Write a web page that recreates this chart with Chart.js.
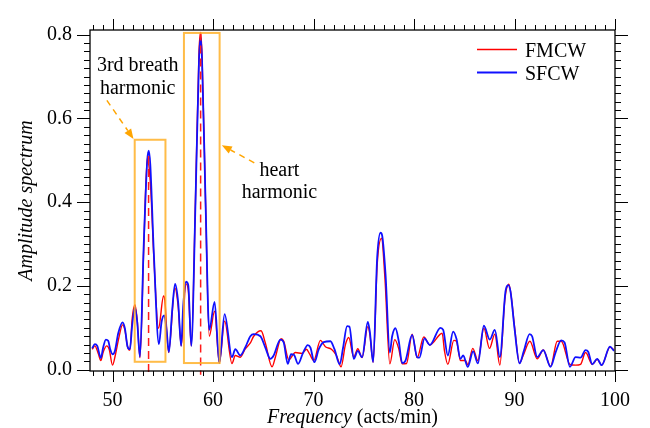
<!DOCTYPE html>
<html>
<head>
<meta charset="utf-8">
<script src="https://cdn.jsdelivr.net/npm/chart.js@4.4.1/dist/chart.umd.min.js"></script>
<style>
    html, body { margin: 0; padding: 0; background: #fff; }
    #wrap { width: 650px; height: 428px; position: relative; }
</style>
</head>
<body>
<div id="wrap"><canvas id="spectrum"></canvas></div>
<script>
// Spectrum data
const fmcwFreq = [47.97, 48.23, 48.57, 48.83, 49.06, 49.4, 49.66, 49.99, 50.29, 50.62, 50.99, 51.22, 51.49, 51.72, 51.95, 52.22, 52.45, 52.72,
    53.1, 53.45, 53.6, 53.8, 54.1, 54.57, 55.07, 55.2, 55.57, 56.2, 56.53, 56.83, 57.3, 57.53, 57.83,
    58.25, 58.6, 58.76, 58.9, 59.25, 59.62, 60.15, 60.62, 61.15, 61.88, 62.21, 62.71, 63.2, 63.71, 64.04, 64.77, 65.2,
    65.87, 66.2, 66.77, 67.03, 67.53, 68.19, 68.86, 69.29, 69.62, 70.02, 70.68, 71.18, 71.78, 72.28, 72.74, 73.17, 73.5,
    74.0, 74.4, 74.83, 75.4, 75.6, 75.93, 76.33, 76.76, 77.1, 77.59, 78.08, 78.48, 78.82, 79.25, 79.81, 80.31, 80.97,
    81.57, 82.8, 83.03, 83.36, 83.96, 84.22, 84.62, 85.12, 85.35, 85.85, 86.35, 86.95, 87.51, 88.04, 88.54, 89.04,
    89.44, 89.7, 90.0, 90.5, 90.86, 91.53, 92.26, 92.86, 93.59, 94.25, 94.65, 95.51, 96.08, 96.57, 97.07, 97.74,
    98.23, 98.67, 99.5, 99.9];
const fmcwAmp = [0.049, 0.057, 0.039, 0.022, 0.042, 0.057, 0.049, 0.011, 0.037, 0.076, 0.107, 0.095, 0.055, 0.047, 0.122, 0.155, 0.118, 0.029,
    0.29, 0.505, 0.49, 0.43, 0.27, 0.099, 0.176, 0.165, 0.041, 0.195, 0.15, 0.057, 0.205, 0.19, 0.057,
    0.41, 0.76, 0.805, 0.75, 0.40, 0.08, 0.14, 0.016, 0.116, 0.015, 0.034, 0.03, 0.05, 0.064, 0.08, 0.093, 0.064,
    0.007, 0.03, 0.074, 0.068, 0.024, 0.041, 0.039, 0.049, 0.037, 0.022, 0.07, 0.055, 0.049, 0.034, 0.007, 0.06, 0.077,
    0.03, 0.05, 0.029, 0.103, 0.085, 0.018, 0.25, 0.314, 0.22, 0.014, 0.072, 0.05, 0.014, 0.015, 0.085, 0.029, 0.078,
    0.059, 0.087, 0.045, 0.013, 0.07, 0.068, 0.022, 0.022, 0.012, 0.051, 0.022, 0.099, 0.051, 0.085, 0.011, 0.168,
    0.204, 0.17, 0.103, 0.016, 0.034, 0.068, 0.026, 0.047, 0.008, 0.068, 0.068, 0.013, 0.011, 0.013, 0.041, 0.013,
    0.025, 0.011, 0.054, 0.047];

const sfcwFreq = [47.97, 48.23, 48.47, 48.83, 49.06, 49.33, 49.56, 49.76, 49.99, 50.23, 50.56, 50.99, 51.22, 51.49, 51.72, 51.95, 52.22, 52.45, 52.72,
    53.1, 53.45, 53.6, 53.75, 54.1, 54.61, 54.87, 55.14, 55.37, 55.6, 55.94, 56.22, 56.53, 56.82, 57.03, 57.3, 57.53, 57.83,
    58.25, 58.6, 58.76, 58.9, 59.25, 59.62, 60.15, 60.62, 61.15, 61.88, 62.21, 62.71, 63.2, 63.71, 64.04, 64.71, 65.2,
    65.7, 66.03, 66.7, 67.03, 67.43, 67.76, 68.03, 68.46, 68.96, 69.42, 69.69, 70.08, 70.52, 71.01, 71.68, 72.08, 72.61,
    72.94, 73.34, 73.57, 74.0, 74.4, 74.83, 75.4, 75.6, 75.93, 76.33, 76.66, 76.82, 77.16, 77.59, 77.82, 78.15, 78.48,
    78.82, 79.15, 79.81, 80.31, 80.54, 81.04, 81.57, 82.63, 82.9, 83.36, 83.89, 84.22, 84.62, 84.89, 85.35, 85.88,
    86.35, 86.95, 87.54, 88.04, 88.54, 89.1, 89.37, 89.6, 90.0, 90.5, 90.93, 91.5, 91.75, 92.26, 92.86, 93.59, 94.08,
    94.65, 94.98, 95.51, 96.08, 96.57, 97.07, 97.33, 97.74, 98.23, 98.67, 99.5, 99.9];
const sfcwAmp = [0.051, 0.061, 0.057, 0.028, 0.053, 0.072, 0.069, 0.049, 0.037, 0.045, 0.087, 0.113, 0.099, 0.055, 0.049, 0.107, 0.149, 0.114, 0.031,
    0.30, 0.50, 0.523, 0.49, 0.28, 0.061, 0.114, 0.13, 0.095, 0.042, 0.145, 0.205, 0.16, 0.057, 0.153, 0.21, 0.202, 0.057,
    0.40, 0.74, 0.792, 0.74, 0.40, 0.095, 0.162, 0.016, 0.133, 0.03, 0.049, 0.034, 0.053, 0.08, 0.085, 0.08, 0.053,
    0.026, 0.034, 0.072, 0.065, 0.014, 0.037, 0.036, 0.014, 0.041, 0.059, 0.053, 0.018, 0.049, 0.066, 0.068, 0.049, 0.013,
    0.053, 0.104, 0.103, 0.026, 0.045, 0.03, 0.114, 0.091, 0.018, 0.267, 0.327, 0.321, 0.229, 0.041, 0.08, 0.099, 0.068,
    0.016, 0.022, 0.083, 0.03, 0.029, 0.075, 0.059, 0.1, 0.095, 0.034, 0.091, 0.074, 0.026, 0.034, 0.007, 0.044,
    0.015, 0.105, 0.072, 0.095, 0.03, 0.187, 0.202, 0.187, 0.099, 0.015, 0.045, 0.085, 0.08, 0.03, 0.047, 0.007, 0.041,
    0.07, 0.065, 0.007, 0.03, 0.029, 0.047, 0.043, 0.013, 0.026, 0.011, 0.055, 0.045];

// Axis ticks that carry a label
const xMajorTicks = [50, 60, 70, 80, 90, 100];
const yMajorTicks = [0.0, 0.2, 0.4, 0.6, 0.8];

// Marked harmonics: frequency and height of the dashed markers
const peakFreqs = [53.58, 58.76];
const peakAmps = [0.51, 0.805];

const SERIF = '"Liberation Serif", "Times New Roman", serif';

function toPoints(xs, ys) {
    return xs.map((x, i) => ({ x: x, y: ys[i] }));
}

function isMajor(value, majors) {
    return majors.some(m => Math.abs(m - value) < 1e-6);
}

function drawArrow(ctx, x0, y0, x1, y1) {
    const ang = Math.atan2(y1 - y0, x1 - x0);
    const len = 10, half = 4;
    ctx.setLineDash([6, 5]);
    ctx.beginPath();
    ctx.moveTo(x0, y0);
    ctx.lineTo(x1 - len * Math.cos(ang), y1 - len * Math.sin(ang));
    ctx.stroke();
    ctx.setLineDash([]);
    ctx.beginPath();
    ctx.moveTo(x1, y1);
    ctx.lineTo(x1 - len * Math.cos(ang) + half * Math.sin(ang), y1 - len * Math.sin(ang) - half * Math.cos(ang));
    ctx.lineTo(x1 - len * Math.cos(ang) - half * Math.sin(ang), y1 - len * Math.sin(ang) + half * Math.cos(ang));
    ctx.closePath();
    ctx.fill();
}

// Boxes, markers, arrows and notes over the curves
const annotationPlugin = {
    id: 'harmonicNotes',
    afterDatasetsDraw(chart) {
        const { ctx, scales: { x, y } } = chart;
        const px = v => x.getPixelForValue(v);
        const py = v => y.getPixelForValue(v);
        ctx.save();

        // red dashed markers at the two harmonics
        ctx.strokeStyle = '#ff1a1a';
        ctx.lineWidth = 1.5;
        ctx.setLineDash([8, 5]);
        peakFreqs.forEach((f, i) => {
            ctx.beginPath();
            ctx.moveTo(px(f), py(peakAmps[i]));
            ctx.lineTo(px(f), py(-0.012));
            ctx.stroke();
        });
        ctx.setLineDash([]);

        // orange boxes
        ctx.strokeStyle = 'rgba(255, 176, 40, 0.85)';
        ctx.lineWidth = 2;
        [[52.2, 55.26, 0.019, 0.549], [57.1, 60.65, 0.016, 0.804]].forEach(b => {
            ctx.strokeRect(px(b[0]), py(b[3]), px(b[1]) - px(b[0]), py(b[2]) - py(b[3]));
        });

        // dashed arrows
        ctx.strokeStyle = '#ffa500';
        ctx.fillStyle = '#ffa500';
        ctx.lineWidth = 1.5;
        drawArrow(ctx, px(49.43), py(0.643), px(52.08), py(0.551));
        drawArrow(ctx, px(64.1), py(0.494), px(60.87), py(0.536));

        // notes
        ctx.fillStyle = '#000';
        ctx.font = '20px ' + SERIF;
        ctx.textAlign = 'center';
        ctx.textBaseline = 'alphabetic';
        ctx.fillText('3rd breath', px(52.5), py(0.712));
        ctx.fillText('harmonic', px(52.5), py(0.658));
        ctx.fillText('heart', px(66.6), py(0.463));
        ctx.fillText('harmonic', px(66.6), py(0.409));
        ctx.restore();
    }
};

// Frame, outward ticks, legend and axis titles
const framePlugin = {
    id: 'frameTicks',
    afterDraw(chart) {
        const { ctx, chartArea: a, scales: { x, y } } = chart;
        ctx.save();
        ctx.strokeStyle = '#000';
        ctx.lineWidth = 1.3;
        ctx.strokeRect(a.left, a.top, a.right - a.left, a.bottom - a.top);

        ctx.lineWidth = 1;
        ctx.beginPath();
        x.ticks.forEach(t => {
            if (t.value < x.min || t.value > x.max) return;
            const p = Math.round(x.getPixelForValue(t.value)) + 0.5;
            const len = isMajor(t.value, xMajorTicks) ? 11 : 5;
            ctx.moveTo(p, a.bottom); ctx.lineTo(p, a.bottom + len);
            ctx.moveTo(p, a.top); ctx.lineTo(p, a.top - len);
        });
        y.ticks.forEach(t => {
            if (t.value < y.min || t.value > y.max) return;
            const p = Math.round(y.getPixelForValue(t.value)) + 0.5;
            const len = isMajor(t.value, yMajorTicks) ? 13 : 6;
            ctx.moveTo(a.left, p); ctx.lineTo(a.left - len, p);
            ctx.moveTo(a.right, p); ctx.lineTo(a.right + len, p);
        });
        ctx.stroke();

        // legend
        const items = chart.data.datasets;
        ctx.font = '20px ' + SERIF;
        ctx.textAlign = 'left';
        ctx.textBaseline = 'alphabetic';
        items.forEach((ds, i) => {
            const ly = 49.5 + i * 23;
            ctx.strokeStyle = ds.borderColor;
            ctx.lineWidth = ds.borderWidth;
            ctx.beginPath();
            ctx.moveTo(477, ly);
            ctx.lineTo(517, ly);
            ctx.stroke();
            ctx.fillStyle = '#000';
            ctx.fillText(ds.label, 525, ly + 7);
        });

        // x title: italic quantity, upright unit
        const cx = (a.left + a.right) / 2;
        ctx.font = 'italic 20px ' + SERIF;
        const w1 = ctx.measureText('Frequency').width;
        ctx.font = '20px ' + SERIF;
        const w2 = ctx.measureText(' (acts/min)').width;
        const startX = cx - (w1 + w2) / 2;
        ctx.font = 'italic 20px ' + SERIF;
        ctx.fillText('Frequency', startX, 423);
        ctx.font = '20px ' + SERIF;
        ctx.fillText(' (acts/min)', startX + w1, 423);

        // y title
        ctx.translate(32, (a.top + a.bottom) / 2);
        ctx.rotate(-Math.PI / 2);
        ctx.textAlign = 'center';
        ctx.font = 'italic 20px ' + SERIF;
        ctx.fillText('Amplitude spectrum', 0, 0);
        ctx.restore();
    }
};

const ctx = document.getElementById('spectrum').getContext('2d');
new Chart(ctx, {
    type: 'line',
    data: {
        datasets: [{
            label: 'FMCW',
            data: toPoints(fmcwFreq, fmcwAmp),
            borderColor: '#ff0000',
            borderWidth: 1.4,
            pointRadius: 0,
            cubicInterpolationMode: 'monotone',
            order: 1
        }, {
            label: 'SFCW',
            data: toPoints(sfcwFreq, sfcwAmp),
            borderColor: '#1010ff',
            borderWidth: 1.8,
            pointRadius: 0,
            cubicInterpolationMode: 'monotone',
            order: 0
        }]
    },
    options: {
        responsive: true,
        maintainAspectRatio: false,
        animation: false,
        layout: { padding: { top: 17, right: 35, left: 0, bottom: 0 } },
        plugins: {
            legend: { display: false },
            tooltip: { enabled: false }
        },
        scales: {
            x: {
                type: 'linear',
                min: 47.75,
                max: 100,
                grid: { display: false, drawTicks: false },
                border: { display: false },
                ticks: {
                    stepSize: 1,
                    autoSkip: false,
                    includeBounds: false,
                    maxRotation: 0,
                    padding: 18,
                    color: '#000',
                    font: { family: SERIF, size: 20 },
                    callback: v => isMajor(v, xMajorTicks) ? String(v) : ''
                },
                afterFit: scale => { scale.height = 57; }
            },
            y: {
                type: 'linear',
                min: -0.003,
                max: 0.811,
                grid: { display: false, drawTicks: false },
                border: { display: false },
                ticks: {
                    stepSize: 0.02,
                    autoSkip: false,
                    includeBounds: false,
                    padding: 18,
                    color: '#000',
                    font: { family: SERIF, size: 20 },
                    callback: v => isMajor(v, yMajorTicks) ? v.toFixed(1) : ''
                },
                afterFit: scale => { scale.width = 90; }
            }
        }
    },
    plugins: [annotationPlugin, framePlugin]
});
</script>
</body>
</html>
